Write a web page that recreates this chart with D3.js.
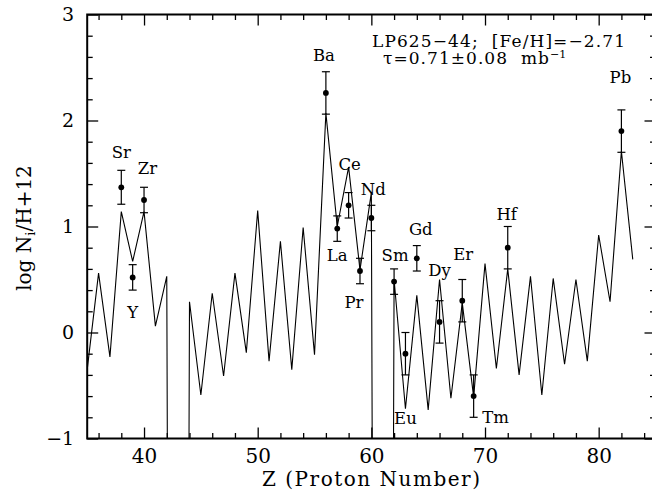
<!DOCTYPE html>
<html>
<head>
<meta charset="utf-8">
<script src="https://cdn.jsdelivr.net/npm/d3@7"></script>
<style>
  body { margin: 0; background: #fff; }
  svg text { font-family: "DejaVu Serif", "Liberation Serif", serif; fill: #000; white-space: pre; }
</style>
</head>
<body>
<div id="chart"></div>
<script>
// model curve, Z = 35..83 (Tc and Pm have no abundance -> very low value)
var modelZ = d3.range(35, 84);
var modelLogN = [
  -0.35, 0.56, -0.23, 1.14, 0.67, 1.14, 0.06, 0.53, -30, 0.29,
  -0.59, 0.37, -0.41, 0.56, -0.19, 1.15, -0.27, 0.86, -0.35, 0.99,
  -0.21, 2.07, 1.00, 1.56, 0.59, 1.32, -30, 0.50, -0.72, 0.35,
  -0.73, 0.50, -0.62, 0.28, -0.61, 0.65, -0.34, 0.60, -0.40, 0.53,
  -0.59, 0.51, -0.30, 0.50, -0.27, 0.92, 0.29, 1.71, 0.69
];

// observed abundances
var elements = ["Sr", "Y", "Zr", "Ba", "La", "Ce", "Pr", "Nd", "Sm", "Eu", "Gd", "Dy", "Er", "Tm", "Hf", "Pb"];
var obsZ     = [38, 39, 40, 56, 57, 58, 59, 60, 62, 63, 64, 66, 68, 69, 72, 82];
var obsLogN  = [1.37, 0.52, 1.25, 2.26, 0.98, 1.20, 0.58, 1.08, 0.48, -0.20, 0.70, 0.10, 0.30, -0.60, 0.80, 1.90];
var obsErr   = [0.16, 0.12, 0.12, 0.20, 0.12, 0.12, 0.12, 0.12, 0.12, 0.20, 0.12, 0.20, 0.20, 0.20, 0.20, 0.20];

var xMajor = [40, 50, 60, 70, 80];
var yMajor = [-1, 0, 1, 2, 3];

// label offsets in px from the dot (layout only)
var labelOffset = {
  Sr: [0, -29], Y: [0, 41], Zr: [3.5, -26], Ba: [-2, -32], La: [0, 32],
  Ce: [1, -35], Pr: [-6, 37], Nd: [2, -23], Sm: [1, -21], Eu: [0, 70],
  Gd: [4, -23], Dy: [0, -46], Er: [1, -41], Tm: [22, 27], Hf: [-1, -28], Pb: [-1, -48]
};

var width = 652, height = 495;
var pLeft = 87.2, pRight = 655.5, pTop = 14.5, pBottom = 438.5;

var svg = d3.select("#chart").append("svg")
    .attr("width", width)
    .attr("height", height);

var x = d3.scaleLinear().domain([35, 85]).range([pLeft, pRight]);
var y = d3.scaleLinear().domain([-1, 3]).range([pBottom, pTop]);

svg.append("clipPath").attr("id", "plotclip")
  .append("rect")
    .attr("x", pLeft).attr("y", pTop)
    .attr("width", pRight - pLeft).attr("height", pBottom - pTop);

// axes: major + minor ticks pointing inward on all four sides
function styleAxis(g) {
  g.select(".domain").remove();
  g.selectAll(".tick line").attr("stroke", "#000").attr("stroke-width", 1.3);
}

var xMinor = d3.range(36, 85, 2).filter(function(d) { return xMajor.indexOf(d) < 0; });
var yMinor = d3.range(-0.8, 3, 0.2).map(function(d) { return Math.round(d * 10) / 10; })
  .filter(function(d) { return yMajor.indexOf(d) < 0; });

svg.append("g").attr("transform", "translate(0," + pBottom + ")")
    .call(d3.axisBottom(x).tickValues(xMajor).tickSize(-11).tickPadding(10).tickFormat(d3.format("d")))
    .call(styleAxis)
    .selectAll("text").attr("font-size", 20).attr("font-family", "DejaVu Serif");
svg.append("g").attr("transform", "translate(0," + pBottom + ")")
    .call(d3.axisBottom(x).tickValues(xMinor).tickSize(-5.5).tickFormat(""))
    .call(styleAxis);
svg.append("g").attr("transform", "translate(0," + pTop + ")")
    .call(d3.axisTop(x).tickValues(xMajor).tickSize(-11).tickFormat(""))
    .call(styleAxis);
svg.append("g").attr("transform", "translate(0," + pTop + ")")
    .call(d3.axisTop(x).tickValues(xMinor).tickSize(-5.5).tickFormat(""))
    .call(styleAxis);

svg.append("g").attr("transform", "translate(" + pLeft + ",0)")
    .call(d3.axisLeft(y).tickValues(yMajor).tickSize(-11).tickPadding(13)
      .tickFormat(function(d) { return d < 0 ? "\u2212" + Math.abs(d) : d; }))
    .call(styleAxis)
    .selectAll("text").attr("font-size", 19).attr("font-family", "DejaVu Serif");
svg.append("g").attr("transform", "translate(" + pLeft + ",0)")
    .call(d3.axisLeft(y).tickValues(yMinor).tickSize(-5.5).tickFormat(""))
    .call(styleAxis);
svg.append("g").attr("transform", "translate(" + pRight + ",0)")
    .call(d3.axisRight(y).tickValues(yMajor).tickSize(-11).tickFormat(""))
    .call(styleAxis);
svg.append("g").attr("transform", "translate(" + pRight + ",0)")
    .call(d3.axisRight(y).tickValues(yMinor).tickSize(-5.5).tickFormat(""))
    .call(styleAxis);

svg.append("rect")
    .attr("x", pLeft).attr("y", pTop)
    .attr("width", pRight - pLeft).attr("height", pBottom - pTop)
    .attr("fill", "none").attr("stroke", "#000").attr("stroke-width", 2);

// model line
var line = d3.line()
    .x(function(d) { return x(d[0]); })
    .y(function(d) { return y(d[1]); });

svg.append("path")
    .datum(d3.zip(modelZ, modelLogN))
    .attr("clip-path", "url(#plotclip)")
    .attr("d", line)
    .attr("fill", "none")
    .attr("stroke", "#000")
    .attr("stroke-width", 1.1);

// observed points with error bars
var obs = elements.map(function(el, i) {
  return { el: el, z: obsZ[i], v: obsLogN[i], e: obsErr[i] };
});

var pts = svg.selectAll(".obs").data(obs).enter().append("g").attr("class", "obs");
pts.append("line")
    .attr("x1", function(d) { return x(d.z); }).attr("x2", function(d) { return x(d.z); })
    .attr("y1", function(d) { return y(d.v + d.e); }).attr("y2", function(d) { return y(d.v - d.e); })
    .attr("stroke", "#000").attr("stroke-width", 1.2);
[1, -1].forEach(function(s) {
  pts.append("line")
      .attr("x1", function(d) { return x(d.z) - 4; }).attr("x2", function(d) { return x(d.z) + 4; })
      .attr("y1", function(d) { return y(d.v + s * d.e); }).attr("y2", function(d) { return y(d.v + s * d.e); })
      .attr("stroke", "#000").attr("stroke-width", 1.2);
});
pts.append("circle")
    .attr("cx", function(d) { return x(d.z); })
    .attr("cy", function(d) { return y(d.v); })
    .attr("r", 2.9)
    .attr("fill", "#000");
pts.append("text")
    .attr("x", function(d) { return x(d.z) + labelOffset[d.el][0]; })
    .attr("y", function(d) { return y(d.v) + labelOffset[d.el][1]; })
    .attr("text-anchor", "middle")
    .attr("font-size", 16.5)
    .text(function(d) { return d.el; });

// header text
svg.append("text")
    .attr("x", 372).attr("y", 47)
    .attr("font-size", 17)
    .attr("textLength", 253)
    .text("LP625\u221244;  [Fe/H]=\u22122.71");
var tau = svg.append("text")
    .attr("x", 383).attr("y", 63.5)
    .attr("font-size", 17);
tau.append("tspan").attr("textLength", 166).text("\u03c4=0.71\u00b10.08  mb");
tau.append("tspan").attr("font-size", 11).attr("dy", -6).text("\u22121");

// axis titles
svg.append("text")
    .attr("x", 371).attr("y", 486)
    .attr("text-anchor", "middle")
    .attr("font-size", 20)
    .attr("textLength", 218)
    .text("Z (Proton Number)");

var ylab = svg.append("text")
    .attr("transform", "translate(31,228) rotate(-90)")
    .attr("text-anchor", "middle")
    .attr("font-size", 20);
ylab.append("tspan").text("log N");
ylab.append("tspan").attr("font-size", 13).attr("dy", 4).text("i");
ylab.append("tspan").attr("dy", -4).text("/H+12");
</script>
</body>
</html>
